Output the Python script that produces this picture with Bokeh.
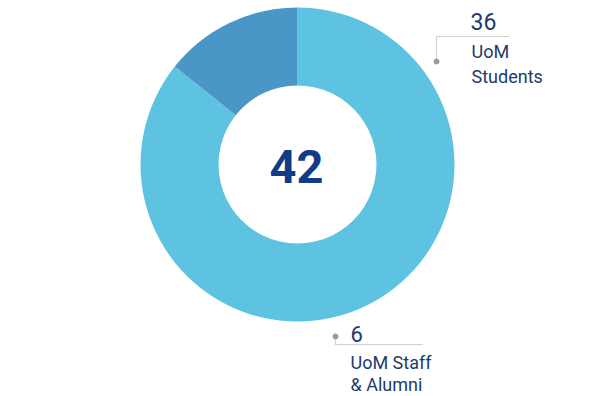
import math
from bokeh.plotting import figure
from bokeh.models import Range1d
from bokeh.core.properties import value
from bokeh.embed import file_html
from bokeh.resources import INLINE

# ---- data ----
categories = ["UoM Students", "UoM Staff & Alumni"]
counts = [36, 6]
colors = ["#5DC3E1", "#4A96C6"]
total_label = "42"
value_labels = ["36", "6"]
name_lines = [["UoM", "Students"], ["UoM Staff", "& Alumni"]]

W, H = 592, 396  # data y = H - pixel y

p = figure(width=W, height=H, output_backend="svg", toolbar_location=None,
           x_range=Range1d(0, W), y_range=Range1d(0, H),
           min_border=0)
p.axis.visible = False
p.grid.visible = False
p.outline_line_color = None
p.background_fill_color = "white"
p.border_fill_color = "white"

cx, cy = 297, H - 164
r_out, r_in = 157, 79

total = sum(counts)
start = math.pi / 2
a_dark_end = start + 2 * math.pi * counts[1] / total
seg = {1: (start, a_dark_end), 0: (a_dark_end, start + 2 * math.pi)}
for i in range(len(categories)):
    s, e = seg[i]
    p.annular_wedge(x=cx, y=cy, inner_radius=r_in, outer_radius=r_out,
                    start_angle=s, end_angle=e, direction="anticlock",
                    fill_color=colors[i], line_color=None)

navy = "#1E3A6C"
font = value("Roboto")


def ty(baseline_px, size):
    # baseline in picture pixels -> data y (compensating renderer offset)
    return H - baseline_px + 0.36 * size


# centre total
p.text(x=[296], y=[ty(183, 47)], text=[total_label], text_font=font,
       text_font_size="47px", text_font_style="bold", text_color="#113D88",
       text_align="center", text_baseline="alphabetic")

# top-right label (Students)
p.text(x=[470], y=[ty(29, 23)], text=[value_labels[0]], text_font=font,
       text_font_size="23px", text_color=navy, text_baseline="alphabetic")
p.text(x=[471, 471], y=[ty(57, 18), ty(82, 18)], text=name_lines[0], text_font=font,
       text_font_size="18px", text_color=navy, text_baseline="alphabetic")
p.line(x=[436, 436, 508], y=[H - 61, H - 36, H - 36], line_color="#A0A0A0",
       line_width=1, line_dash="1 1")
p.scatter(x=[436], y=[H - 61], size=5, color="#9A9A9A")

# bottom label (Staff & Alumni)
p.text(x=[350], y=[ty(341, 22)], text=[value_labels[1]], text_font=font,
       text_font_size="22px", text_color=navy, text_baseline="alphabetic")
p.text(x=[350, 350], y=[ty(368, 18), ty(390, 18)], text=name_lines[1], text_font=font,
       text_font_size="18px", text_color=navy, text_baseline="alphabetic")
p.line(x=[335, 335, 423], y=[H - 336, H - 344, H - 344],
       line_color="#A0A0A0", line_width=1, line_dash="1 1")
p.scatter(x=[335], y=[H - 336], size=5, color="#9A9A9A")

open("out.html", "w").write(file_html(p, INLINE))
